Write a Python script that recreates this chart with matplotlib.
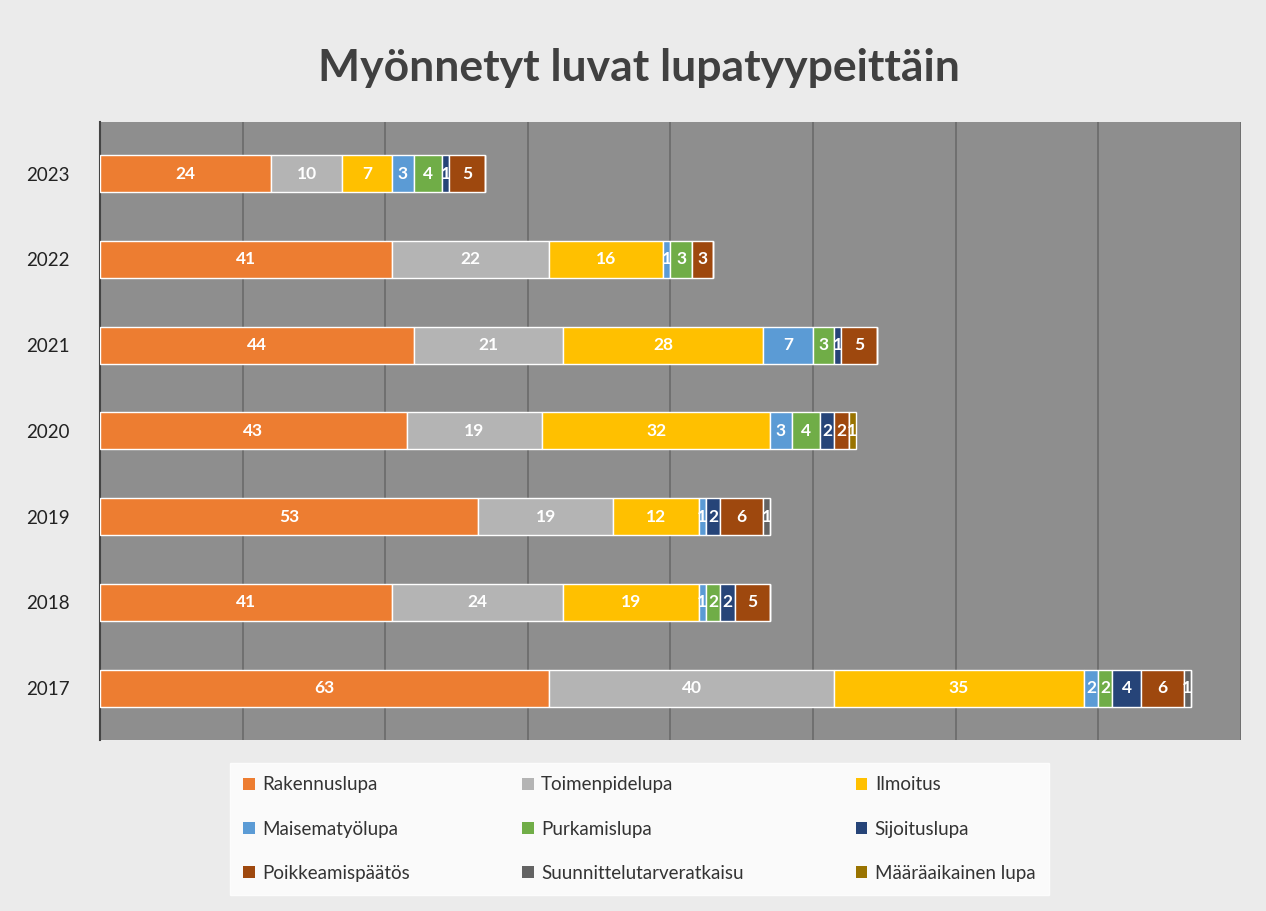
import numpy as np
import matplotlib.pyplot as plt
from matplotlib.patches import Patch

years = ['2017', '2018', '2019', '2020', '2021', '2022', '2023']
series_names = ['Rakennuslupa', 'Toimenpidelupa', 'Ilmoitus', 'Maisematyölupa', 'Purkamislupa',
                'Sijoituslupa', 'Poikkeamispäätös', 'Suunnittelutarveratkaisu', 'Määräaikainen lupa']
rakennuslupa = [63, 41, 53, 43, 44, 41, 24]
toimenpidelupa = [40, 24, 19, 19, 21, 22, 10]
ilmoitus = [35, 19, 12, 32, 28, 16, 7]
maisematyolupa = [2, 1, 1, 3, 7, 1, 3]
purkamislupa = [2, 2, 0, 4, 3, 3, 4]
sijoituslupa = [4, 2, 2, 2, 1, 0, 1]
poikkeamispaatos = [6, 5, 6, 2, 5, 3, 5]
suunnittelutarveratkaisu = [1, 0, 1, 0, 0, 0, 0]
maaraaikainen = [0, 0, 0, 1, 0, 0, 0]

colors = ['#ED7D31', '#B4B4B4', '#FFC000', '#5B9BD5', '#70AD47',
          '#264478', '#9E480E', '#636363', '#997300']

plt.rcParams['font.family'] = ['Lato', 'DejaVu Sans']

fig = plt.figure(figsize=(12.66, 9.11), dpi=100, facecolor='#ebebeb')
ax = fig.add_axes([0.079, 0.188, 0.901, 0.678])
ax.set_facecolor('#8e8e8e')

all_series = [rakennuslupa, toimenpidelupa, ilmoitus, maisematyolupa, purkamislupa,
              sijoituslupa, poikkeamispaatos, suunnittelutarveratkaisu, maaraaikainen]
y = np.arange(len(years))
left = np.zeros(len(years))
for name, vals, col in zip(series_names, all_series, colors):
    vals = np.array(vals)
    bars = ax.barh(y, vals, left=left, height=0.43, color=col, edgecolor='white',
                   linewidth=1.0, label=name, zorder=3)
    ax.bar_label(bars, labels=[str(v) if v else '' for v in vals], label_type='center',
                 color='white', fontsize=12.5, fontweight='bold')
    left += vals

ax.set_xlim(0, 160)
ax.set_ylim(-0.6, 6.6)
ax.set_xticks(np.arange(0, 161, 20))
ax.set_xticklabels([])
ax.tick_params(axis='x', length=0)
ax.grid(axis='x', color='#6a6a6a', linewidth=1.2, zorder=0)
ax.set_yticks(y)
ax.set_yticklabels(years, fontsize=13.5, color='#222222')
ax.tick_params(axis='y', length=0, pad=22)
for s in ['top', 'right', 'bottom']:
    ax.spines[s].set_visible(False)
ax.spines['left'].set_color('#444444')
ax.spines['left'].set_linewidth(1.5)

fig.text(0.505, 0.925, 'Myönnetyt luvat lupatyypeittäin', ha='center', va='center',
         fontsize=32, fontweight='bold', color='#404040')

handles = [Patch(facecolor=c, label=n) for n, c in zip(series_names, colors)]
order = [0, 3, 6, 1, 4, 7, 2, 5, 8]
leg = fig.legend([handles[i] for i in order], [series_names[i] for i in order],
                 loc='center', bbox_to_anchor=(0.505, 0.09), ncol=3, fontsize=13.5,
                 frameon=True, fancybox=False, facecolor='white', edgecolor='white',
                 handlelength=0.6, handleheight=0.6, handletextpad=0.4,
                 columnspacing=6.0, labelspacing=1.45, borderpad=0.7)
for t in leg.get_texts():
    t.set_color('#333333')

fig.savefig('out.png', dpi=100, facecolor=fig.get_facecolor())
